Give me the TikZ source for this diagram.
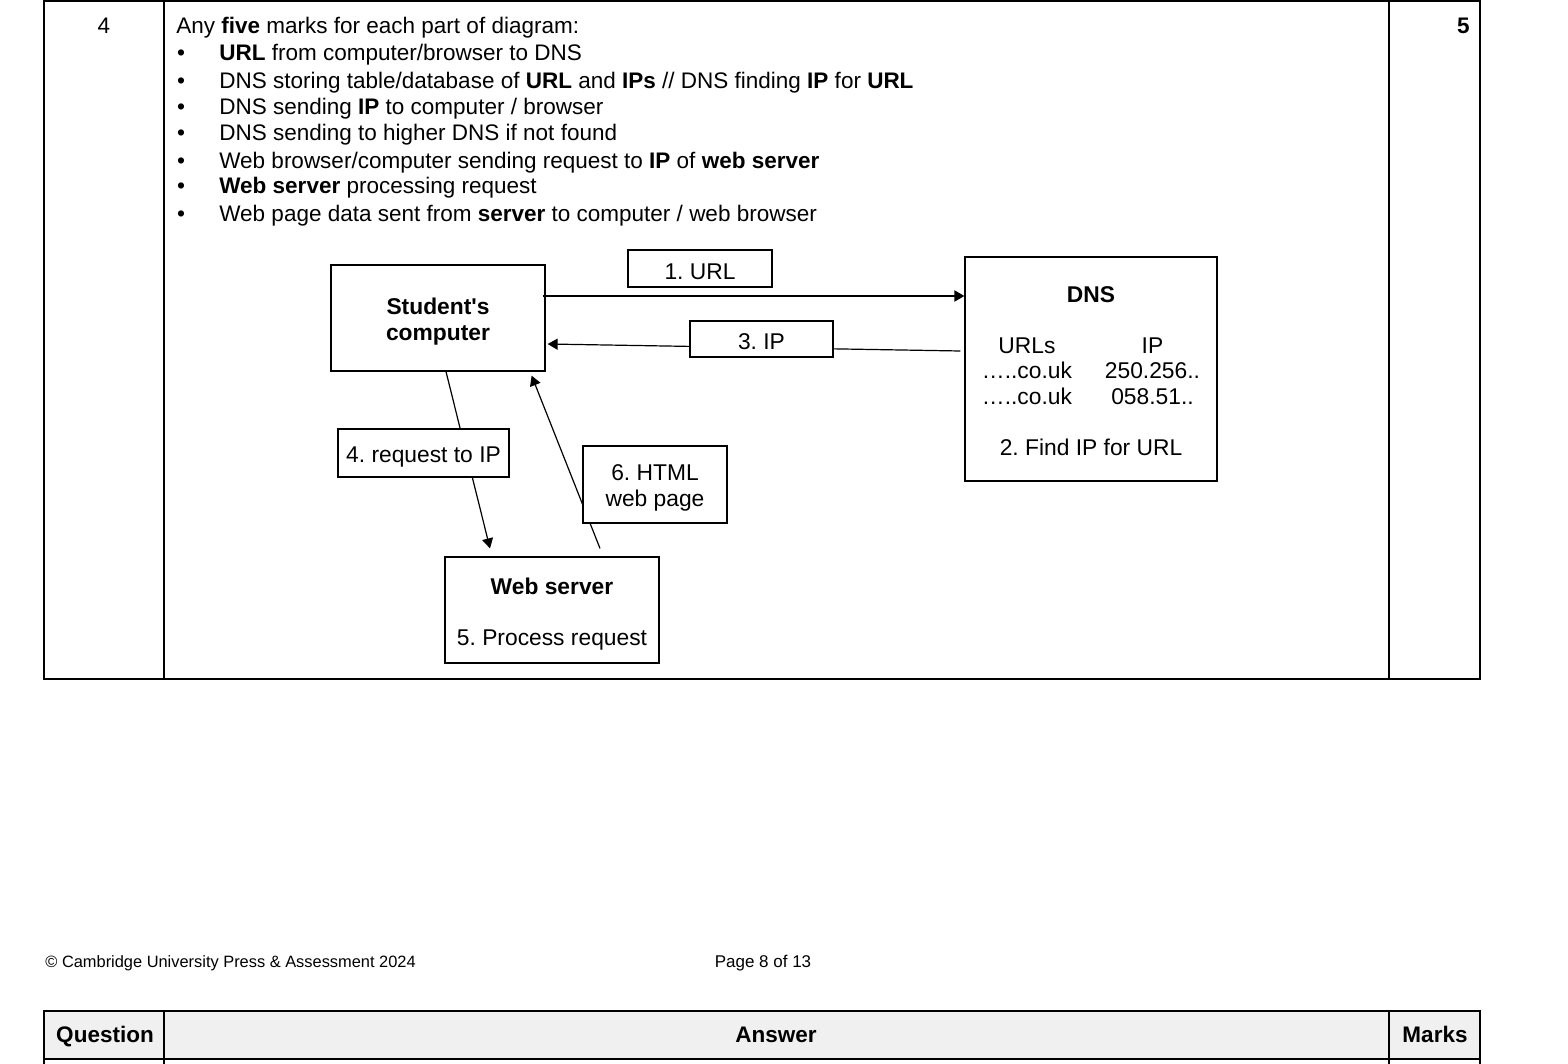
\documentclass[tikz,border=0pt]{standalone}
\usepackage{fontspec}
\setmainfont{Liberation Sans}
\usetikzlibrary{positioning,arrows.meta}

\begin{document}
\begin{tikzpicture}[
  x=0.5pt, y=-0.5pt,
  font=\fontsize{11.4pt}{12.75pt}\selectfont\frenchspacing,
  mybox/.style={draw,rectangle,align=center,line width=0.6pt,inner sep=0pt},
  mylabel/.style={draw,rectangle,fill=white,align=center,line width=0.6pt,inner sep=0pt},
  mytext/.style={anchor=base west,inner sep=0pt,font=\fontsize{11.25pt}{12.75pt}\selectfont\frenchspacing},
  mybullet/.style={anchor=base,inner sep=0pt},
  myarrow/.style={-{Triangle[length=5pt,width=5.5pt]},line width=0.6pt}
    ]

\useasboundingbox (0,0) rectangle (1568,1064);

% answer row of the table
\draw[line width=0.8pt] (44,1) rectangle (1480,679);
\draw[line width=0.8pt] (164,1) -- (164,679) (1389,1) -- (1389,679);
\node[mytext,anchor=base] (q) at (104,34) {4};
\node[mytext,anchor=base east] (mk) at (1470,34) {\textbf{5}};

\node[mytext] (intro) at (176,34) {Any \textbf{five} marks for each part of diagram:};
\node[mybullet] (b1) at (181,61) {•};
\node[mytext] (t1) at (219,61) {\textbf{URL} from computer/browser to DNS};
\node[mybullet] (b2) at (181,89) {•};
\node[mytext] (t2) at (219,89) {DNS storing table/database of \textbf{URL} and \textbf{IPs} // DNS finding \textbf{IP} for \textbf{URL}};
\node[mybullet] (b3) at (181,115) {•};
\node[mytext] (t3) at (219,115) {DNS sending \textbf{IP} to computer / browser};
\node[mybullet] (b4) at (181,141) {•};
\node[mytext] (t4) at (219,141) {DNS sending to higher DNS if not found};
\node[mybullet] (b5) at (181,169) {•};
\node[mytext] (t5) at (219,169) {Web browser/computer sending request to \textbf{IP} of \textbf{web server}};
\node[mybullet] (b6) at (181,194) {•};
\node[mytext] (t6) at (219,194) {\textbf{Web server} processing request};
\node[mybullet] (b7) at (181,222) {•};
\node[mytext] (t7) at (219,222) {Web page data sent from \textbf{server} to computer / web browser};

% the diagram
\node[mybox,minimum width=107pt,minimum height=53pt] (comp) at (438,318) {\rule{0pt}{11.5pt}\textbf{Student\textquotesingle s}\\[0.25pt]\textbf{computer}};
\node[mybox,minimum width=126pt,minimum height=112pt] (dns) at (1091,369) {%
  \begin{tabular}{@{}c@{\hspace{16.5pt}}c@{}}
  \multicolumn{2}{c}{\rule{0pt}{13.5pt}\textbf{DNS}}\\
  \\
  URLs & IP\\
  …..co.uk & 250.256..\\
  …..co.uk & 058.51..\\
  \\
  \multicolumn{2}{c}{2. Find IP for URL}
  \end{tabular}};
\node[mybox,minimum width=107pt,minimum height=53pt] (web) at (552,610) {\rule{0pt}{12pt}\textbf{Web server}\\[12.75pt]5. Process request};

\draw[myarrow,line width=0.9pt] ([xshift=-1.5pt,yshift=11pt]comp.east) -- ([yshift=11pt]comp.east -| dns.west);
\draw[myarrow] ([xshift=-2pt,yshift=9pt]dns.west) -- ([xshift=1pt,yshift=-13pt]comp.east);
\draw[myarrow] ([xshift=4pt]comp.south) -- ([xshift=-31pt,yshift=4pt]web.north);
\draw[myarrow] ([xshift=24pt,yshift=4pt]web.north) -- ([xshift=-7pt,yshift=-2pt]comp.south east);

\node[mylabel,minimum width=72pt,minimum height=18.5pt] (urll) at (700,268.5) {\rule{0pt}{11pt}1. URL};
\node[mylabel,minimum width=71.5pt,minimum height=18pt] (ipl) at (761.5,339) {\rule{0pt}{11pt}3. IP};
\node[mylabel,minimum width=85.5pt,minimum height=24pt] (reql) at (423.5,453) {\rule{0pt}{11.5pt}4. request to IP};
\node[mylabel,minimum width=72pt,minimum height=38.5pt] (htmll) at (655,484.5) {\rule{0pt}{11pt}6. HTML\\[0.25pt]web page};

% page footer
\node[mytext,font=\fontsize{8.2pt}{10pt}\selectfont] (copy) at (45,967) {© Cambridge University Press \& Assessment 2024};
\node[mytext,anchor=base,font=\fontsize{8.5pt}{10pt}\selectfont] (page) at (763,967) {Page 8 of 13};

% head of the next table
\fill[black!6] (44,1011) rectangle (1480,1059);
\draw[line width=0.8pt] (44,1064) -- (44,1011) -- (1480,1011) -- (1480,1064);
\draw[line width=0.8pt] (44,1059) -- (1480,1059);
\draw[line width=0.8pt] (164,1011) -- (164,1064) (1389,1011) -- (1389,1064);
\node[mytext,anchor=base] (hq) at (105,1042) {\textbf{Question}};
\node[mytext,anchor=base] (ha) at (776,1042) {\textbf{Answer}};
\node[mytext,anchor=base] (hm) at (1435,1042) {\textbf{Marks}};

\end{tikzpicture}
\end{document}
